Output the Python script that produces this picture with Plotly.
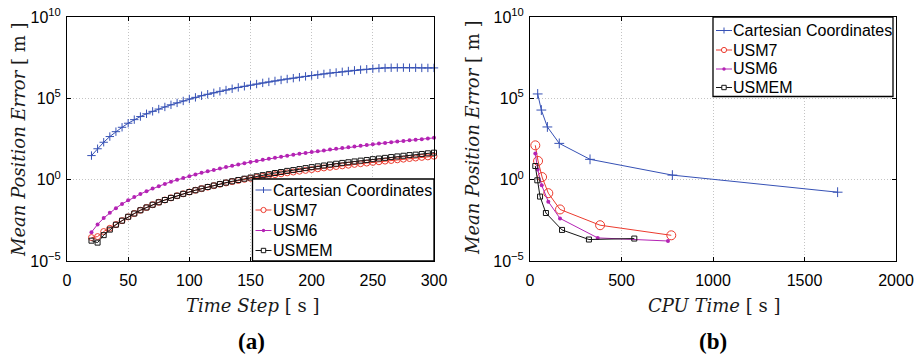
import plotly.graph_objects as go

W, H = 921, 356

# ---------- (a) error growth versus integration time step ----------
time_step = list(range(20, 301, 5))

# log10 of the mean position error [m]
cart_a_log10 = [
    1.48, 1.90, 2.30, 2.65, 2.95, 3.22, 3.47, 3.69, 3.88, 4.05,
    4.20, 4.34, 4.47, 4.60, 4.72, 4.84, 4.96, 5.06, 5.16, 5.25,
    5.34, 5.43, 5.51, 5.59, 5.67, 5.74, 5.81, 5.88, 5.95, 6.01,
    6.07, 6.13, 6.19, 6.24, 6.30, 6.35, 6.40, 6.45, 6.50, 6.55,
    6.59, 6.63, 6.68, 6.72, 6.76, 6.79, 6.82, 6.85, 6.87, 6.88,
    6.89, 6.89, 6.88, 6.88, 6.87, 6.87, 6.87,
]
usm7_a_log10 = [
    -3.56, -3.50, -3.19, -2.99, -2.76, -2.52, -2.29, -2.08, -1.88, -1.71,
    -1.54, -1.39, -1.25, -1.12, -0.99, -0.87, -0.76, -0.65, -0.55, -0.46,
    -0.37, -0.28, -0.20, -0.12, -0.05, 0.02, 0.08, 0.14, 0.20, 0.26,
    0.31, 0.36, 0.42, 0.47, 0.52, 0.57, 0.62, 0.67, 0.72, 0.76,
    0.81, 0.85, 0.89, 0.94, 0.98, 1.02, 1.06, 1.10, 1.14, 1.18,
    1.22, 1.26, 1.30, 1.33, 1.37, 1.40, 1.44,
]
usm6_a_log10 = [
    -3.23, -2.75, -2.36, -2.03, -1.75, -1.49, -1.27, -1.07, -0.88, -0.71,
    -0.55, -0.40, -0.26, -0.13, -0.01, 0.11, 0.21, 0.32, 0.42, 0.51,
    0.60, 0.69, 0.78, 0.86, 0.94, 1.01, 1.08, 1.15, 1.22, 1.29,
    1.35, 1.41, 1.47, 1.53, 1.59, 1.64, 1.70, 1.75, 1.80, 1.85,
    1.90, 1.95, 2.00, 2.04, 2.09, 2.13, 2.18, 2.22, 2.26, 2.30,
    2.34, 2.38, 2.42, 2.46, 2.49, 2.53, 2.57,
]
usmem_a_log10 = [
    -3.75, -3.87, -3.41, -3.07, -2.77, -2.52, -2.28, -2.08, -1.88, -1.71,
    -1.54, -1.39, -1.25, -1.12, -0.99, -0.87, -0.76, -0.65, -0.55, -0.45,
    -0.36, -0.27, -0.18, -0.10, -0.02, 0.06, 0.13, 0.21, 0.28, 0.34,
    0.41, 0.47, 0.54, 0.59, 0.65, 0.71, 0.77, 0.82, 0.87, 0.93,
    0.98, 1.03, 1.07, 1.12, 1.17, 1.21, 1.26, 1.30, 1.34, 1.39,
    1.43, 1.47, 1.51, 1.54, 1.58, 1.62, 1.66,
]

# ---------- (b) accuracy versus computational cost ----------
cpu_cart = [42, 62, 95, 160, 328, 778, 1681]
cart_b_log10 = [5.27, 4.28, 3.24, 2.23, 1.25, 0.28, -0.77]
cpu_usm7 = [29, 44, 66, 100, 164, 383, 772]
usm7_b_log10 = [2.11, 1.15, 0.16, -0.83, -1.83, -2.80, -3.42]
cpu_usm6 = [29, 42, 64, 100, 164, 370, 754]
usm6_b_log10 = [1.61, 0.62, -0.35, -1.35, -2.38, -3.58, -3.77]
cpu_usmem = [29, 40, 55, 87, 175, 322, 570]
usmem_b_log10 = [0.84, -0.04, -1.04, -2.05, -3.09, -3.68, -3.62]

series_names = ["Cartesian Coordinates", "USM7", "USM6", "USMEM"]
y_tickvals = [1e-5, 1e0, 1e5, 1e10]
y_ticktext = ["10<sup>\u22125</sup>", "10<sup>0</sup>", "10<sup>5</sup>", "10<sup>10</sup>"]

BLUE = "#3651b5"
RED = "#ec3b2e"
MAGENTA = "#b423b4"
BLACK = "#151515"
colors = [BLUE, RED, MAGENTA, BLACK]


def pow10(vals):
    return [10 ** v for v in vals]


def marker_style(i, panel):
    if i == 0:
        return dict(symbol="cross-thin", size=6 if panel == "a" else 7,
                    line=dict(width=1, color=BLUE), color=BLUE)
    if i == 1:
        return dict(symbol="circle-open", size=6 if panel == "a" else 9,
                    line=dict(width=1, color=RED), color=RED)
    if i == 2:
        return dict(symbol="circle", size=4, color=MAGENTA, line=dict(width=0))
    return dict(symbol="square-open", size=5, line=dict(width=1, color=BLACK), color=BLACK)


fig = go.Figure()

panel_a = [cart_a_log10, usm7_a_log10, usm6_a_log10, usmem_a_log10]
for i, ys in enumerate(panel_a):
    fig.add_trace(go.Scatter(
        x=time_step, y=pow10(ys), name=series_names[i], mode="lines+markers",
        line=dict(color=colors[i], width=1), marker=marker_style(i, "a"),
        xaxis="x", yaxis="y", showlegend=False, cliponaxis=False))

panel_b = [(cpu_cart, cart_b_log10), (cpu_usm7, usm7_b_log10),
           (cpu_usm6, usm6_b_log10), (cpu_usmem, usmem_b_log10)]
for i, (xs, ys) in enumerate(panel_b):
    fig.add_trace(go.Scatter(
        x=xs, y=pow10(ys), name=series_names[i], mode="lines+markers",
        line=dict(color=colors[i], width=1), marker=marker_style(i, "b"),
        xaxis="x2", yaxis="y2", showlegend=False, cliponaxis=False))


def px(x):
    return x / W


def py(y):
    return 1 - y / H


tick_font = dict(family="Liberation Sans, Arial, sans-serif", size=16, color="black")
axis_common = dict(
    showline=True, linecolor="black", linewidth=1, mirror="ticks",
    ticks="inside", ticklen=4, tickcolor="black", tickwidth=1,
    showgrid=True, gridcolor="#c4c4c4", griddash="1px,2px", gridwidth=1,
    zeroline=False, tickfont=tick_font, automargin=False,
)
y_dom = [py(261), py(17)]

fig.update_layout(
    width=W, height=H,
    margin=dict(l=0, r=0, t=0, b=0, autoexpand=False),
    paper_bgcolor="white", plot_bgcolor="white",
    xaxis=dict(domain=[px(67), px(434)], range=[0, 300], tickmode="linear",
               tick0=0, dtick=50, anchor="y", ticklabelstandoff=5, **axis_common),
    yaxis=dict(domain=y_dom, type="log", range=[-5, 10], tickmode="array",
               tickvals=y_tickvals, ticktext=y_ticktext, anchor="x",
               ticklabelstandoff=2, **axis_common),
    xaxis2=dict(domain=[px(530), px(896)], range=[0, 2000], tickmode="linear",
                tick0=0, dtick=500, anchor="y2", ticklabelstandoff=5, **axis_common),
    yaxis2=dict(domain=y_dom, type="log", range=[-5, 10], tickmode="array",
                tickvals=y_tickvals, ticktext=y_ticktext, anchor="x2",
                ticklabelstandoff=2, **axis_common),
)

title_font = dict(family="DejaVu Serif, serif", size=18, color="#1a1a1a")
label_font = dict(family="Liberation Serif, Times New Roman, serif", size=23, color="black")

annotations = [
    dict(x=px(252), y=py(305), text="<i>Time Step</i> [ s ]", font=title_font),
    dict(x=px(714), y=py(305), text="<i>CPU Time</i> [ s ]", font=title_font),
    dict(x=px(18), y=py(140), text="<i>Mean Position Error</i> [ m ]",
         font=title_font, textangle=-90),
    dict(x=px(473), y=py(138), text="<i>Mean Position Error</i> [ m ]",
         font=title_font, textangle=-90),
    dict(x=px(251), y=py(341), text="<b>(a)</b>", font=label_font),
    dict(x=px(713), y=py(341), text="<b>(b)</b>", font=label_font),
]
for a in annotations:
    a.update(xref="paper", yref="paper", showarrow=False,
             xanchor="center", yanchor="middle")

shapes = []
legend_font = dict(family="Liberation Sans, Arial, sans-serif", size=16, color="black")


def draw_legend(box, rows, x_line0, x_line1, x_text):
    x0, y0, x1, y1 = box
    shapes.append(dict(type="rect", xref="paper", yref="paper",
                       x0=px(x0), x1=px(x1), y0=py(y1), y1=py(y0),
                       fillcolor="white", line=dict(color="black", width=1.3),
                       layer="above"))
    xc = (x_line0 + x_line1) / 2
    for i, yr in enumerate(rows):
        c = colors[i]
        shapes.append(dict(type="line", xref="paper", yref="paper",
                           x0=px(x_line0), x1=px(x_line1), y0=py(yr), y1=py(yr),
                           line=dict(color=c, width=1), layer="above"))
        if i == 0:
            shapes.append(dict(type="line", xref="paper", yref="paper",
                               x0=px(xc), x1=px(xc), y0=py(yr - 3), y1=py(yr + 3),
                               line=dict(color=c, width=1), layer="above"))
        elif i == 1:
            shapes.append(dict(type="circle", xref="paper", yref="paper",
                               x0=px(xc - 2.6), x1=px(xc + 2.6),
                               y0=py(yr + 2.6), y1=py(yr - 2.6),
                               fillcolor="white", line=dict(color=c, width=1),
                               layer="above"))
        elif i == 2:
            shapes.append(dict(type="circle", xref="paper", yref="paper",
                               x0=px(xc - 1.7), x1=px(xc + 1.7),
                               y0=py(yr + 1.7), y1=py(yr - 1.7),
                               fillcolor=c, line=dict(color=c, width=0),
                               layer="above"))
        else:
            shapes.append(dict(type="rect", xref="paper", yref="paper",
                               x0=px(xc - 2.2), x1=px(xc + 2.2),
                               y0=py(yr + 2.2), y1=py(yr - 2.2),
                               fillcolor="white", line=dict(color=c, width=1),
                               layer="above"))
        annotations.append(dict(x=px(x_text), y=py(yr), xref="paper", yref="paper",
                                text=series_names[i], showarrow=False,
                                xanchor="left", yanchor="middle", font=legend_font))


draw_legend((252.5, 179, 434, 261), [190, 210, 230.5, 250.5], 255.5, 271.5, 271)
draw_legend((713, 17, 893, 96.5), [30.5, 50, 69, 87.5], 716, 732, 731)

fig.update_layout(annotations=annotations, shapes=shapes)

fig.write_html("out.html")
